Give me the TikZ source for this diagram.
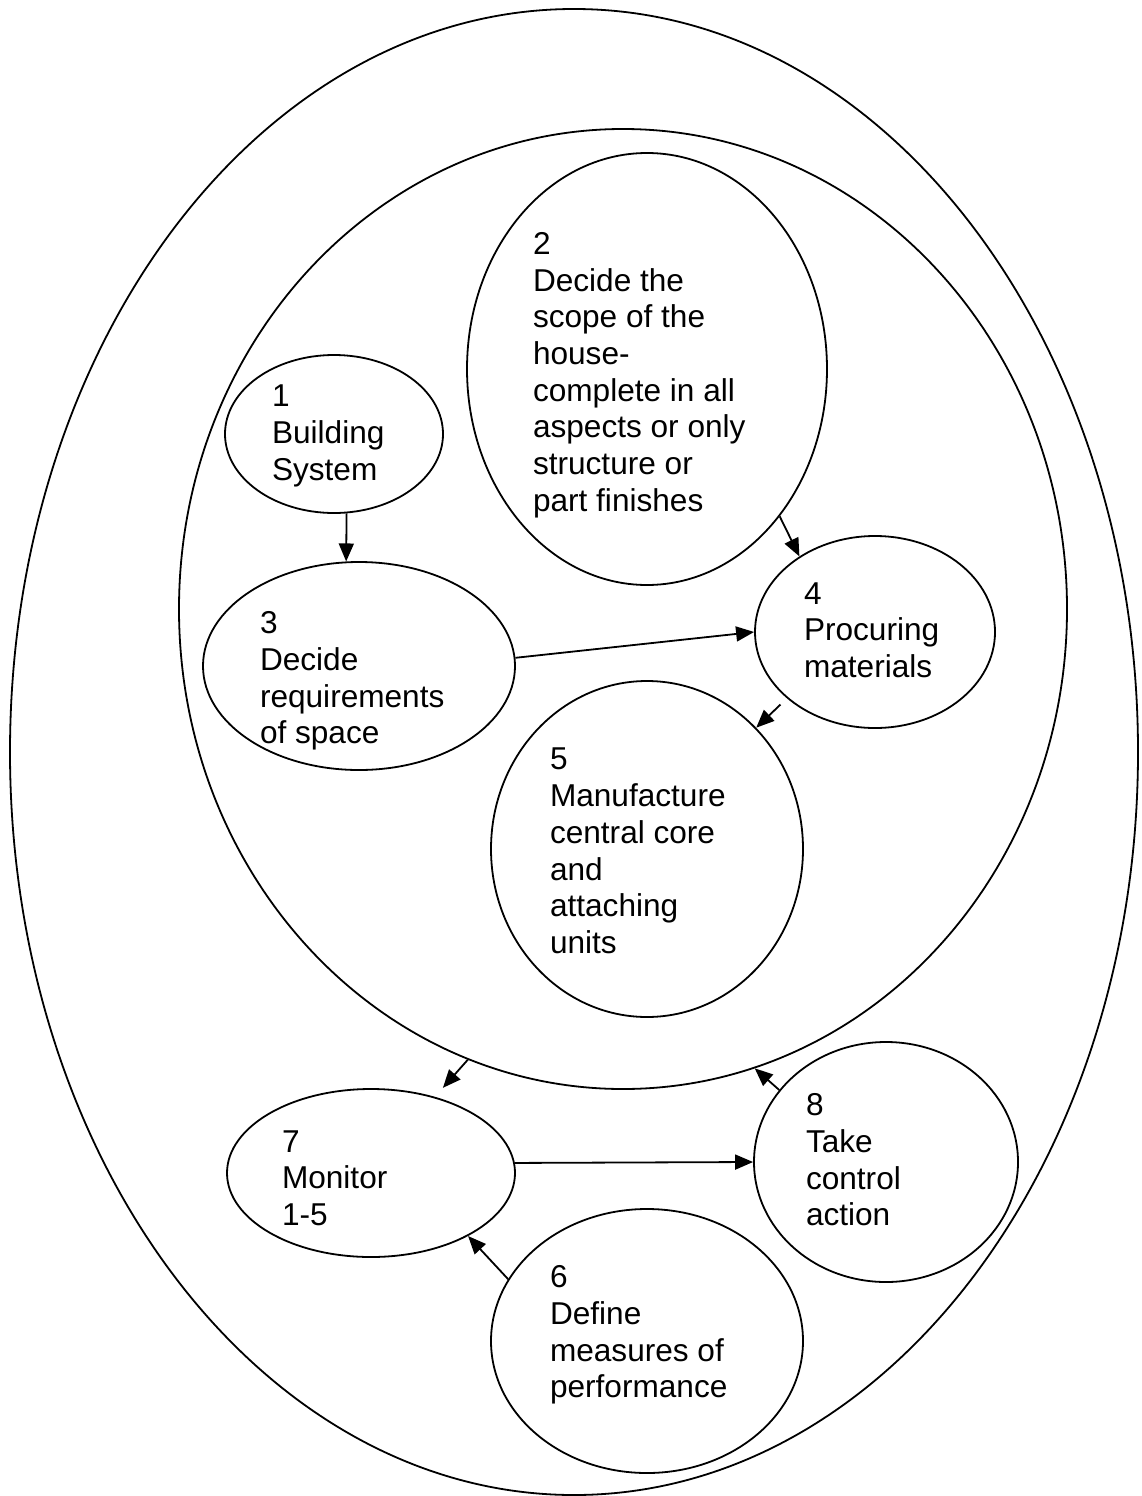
\documentclass[tikz,border=0pt]{standalone}
\usepackage{fontspec}
\setmainfont{Liberation Sans}
\usetikzlibrary{arrows.meta,positioning,shapes.geometric}
\tikzset{%
	>={Triangle[width=15pt,length=18pt]},
	% Specifications for style of nodes:
	ring/.style = {ellipse, draw=black, line width=1.8pt, inner sep=0pt},
	stage/.style = {ring},
	stagetext/.style = {align=left, inner sep=0pt,
		font=\fontsize{31.6}{36.7}\selectfont},
}

\begin{document}
\begin{tikzpicture}[x=1pt, y=-1pt, line width=1.8pt]
		\useasboundingbox (0,0) rectangle (1141,1496);
		
		% the two loops round the stages
		\node (controlLoop)   [ring, minimum width=1128pt, minimum height=1486pt] at (574,752) {};
		\node (buildLoop)     [ring, minimum width=888pt, minimum height=960pt] at (623,609) {};
		
		% Specification of stages (position, size)
		\node (buildSystem)   [stage, minimum width=218pt, minimum height=158pt] at (334,434) {};
		\node (decideScope)   [stage, minimum width=360pt, minimum height=432pt] at (647,369) {};
		\node (decideSpace)   [stage, minimum width=312pt, minimum height=208pt] at (359,666) {};
		\node (procure)       [stage, minimum width=240pt, minimum height=192pt] at (875,632) {};
		\node (manufacture)   [stage, minimum width=312pt, minimum height=336pt] at (647,849) {};
		\node (defineMeasure) [stage, minimum width=312pt, minimum height=264pt] at (647,1341) {};
		\node (monitor)       [stage, minimum width=288pt, minimum height=168pt] at (371,1173) {};
		\node (controlAction) [stage, minimum width=264pt, minimum height=240pt] at (886,1162) {};
		
		% text of the stages, left aligned inside each ellipse
		\node (buildSystemText)   [stagetext, right=47pt of buildSystem.west, yshift=-2pt] {1\\Building\\System};
		\node (decideScopeText)   [stagetext, right=66pt of decideScope.west, yshift=-6pt]
		{2\\Decide the\\scope of the\\house-\\complete in all\\aspects or only\\structure or\\part finishes};
		\node (decideSpaceText)   [stagetext, right=57pt of decideSpace.west, yshift=-15pt] {3\\Decide\\requirements\\of space};
		\node (procureText)       [stagetext, right=49pt of procure.west, yshift=2pt] {4\\Procuring\\materials};
		\node (manufactureText)   [stagetext, right=59pt of manufacture.west, yshift=-2pt]
		{5\\Manufacture\\central core\\and\\attaching\\units};
		\node (defineMeasureText) [stagetext, right=59pt of defineMeasure.west, yshift=6pt]
		{6\\Define\\measures of\\performance};
		\node (monitorText)       [stagetext, right=55pt of monitor.west, yshift=-5pt] {7\\Monitor\\1-5};
		\node (controlActionText) [stagetext, right=52pt of controlAction.west, yshift=2pt] {8\\Take\\control\\action};
		
		\draw[->] (buildSystem.279) -- (decideSpace.97);
		\draw[->] (decideScope.312) -- (procure.135);
		\draw[->] (decideSpace.3) -- (procure.west);
		\draw[->] [shorten <=9pt] (procure.217) -- (manufacture.48);
		
		\draw[->] [shorten >=12pt] (buildLoop.251) -- (monitor.50);
		\draw[->] (monitor.4) -- (controlAction.west);
		\draw[->] (controlAction.146) -- (buildLoop.286);
		\draw[->] (defineMeasure.156) -- (monitor.327);
		
\end{tikzpicture}
\end{document}
